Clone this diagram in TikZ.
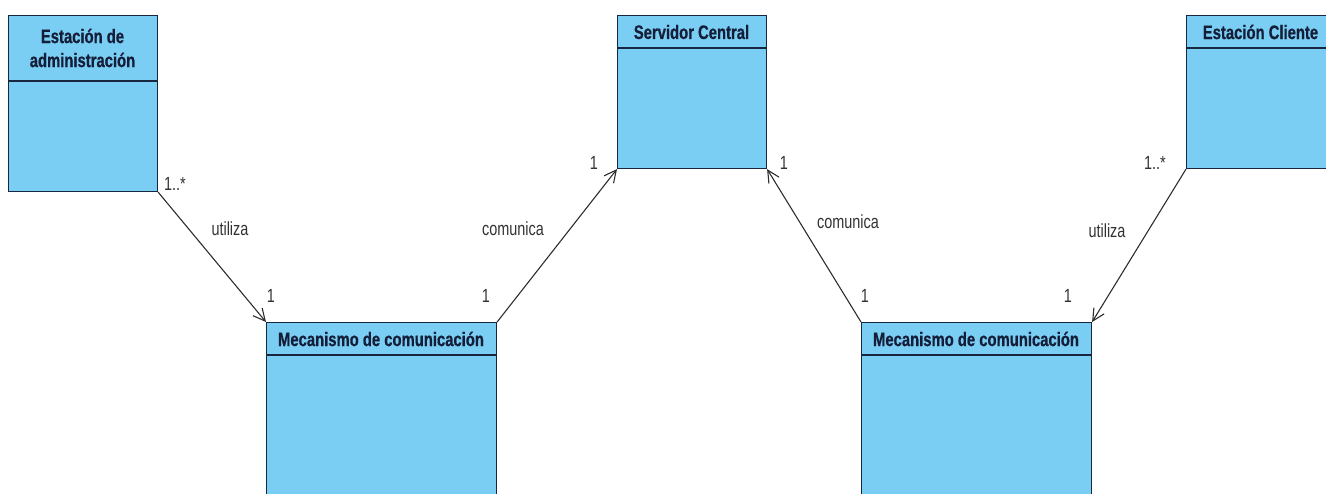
\documentclass[tikz,border=0pt]{standalone}
\usepackage{fontspec}
\setmainfont{Liberation Sans}
\newfontfamily\narrowfont[FakeStretch=0.76]{Liberation Sans}
\newfontfamily\narrowbold[FakeStretch=0.76,FakeBold=0.6]{Liberation Sans Bold}
\usetikzlibrary{arrows.meta}
\definecolor{classfill}{RGB}{122,206,244}
\definecolor{classline}{RGB}{24,38,64}
\definecolor{titletext}{RGB}{20,30,56}
\definecolor{assocline}{RGB}{45,45,45}
\definecolor{labeltext}{RGB}{50,50,50}
\begin{document}
\begin{tikzpicture}[x=1pt,y=-1pt,
  classbox/.style={draw=classline,fill=classfill,line width=1.1pt,anchor=north west,inner sep=0pt},
  classtitle/.style={font=\narrowbold\fontsize{19.5}{21}\selectfont,text=titletext,inner sep=0pt,anchor=center,align=center},
  divider/.style={draw=classline,line width=1.4pt},
  assoc/.style={draw=assocline,line width=1.1pt,-{Straight Barb[length=12pt,width=12pt,line width=1.1pt]}},
  role/.style={font=\narrowfont\fontsize{19}{21}\selectfont,text=labeltext,inner sep=0pt,anchor=center}]
\useasboundingbox (0,0) rectangle (1326,493);
\clip (0,0) rectangle (1326,493);

% classes
\node[classbox,minimum width=149pt,minimum height=176pt] (adm) at (8,15) {};
\node[classtitle] (admT) at (82.5,48) {Estación de\\[3pt]administración};
\draw[divider] (adm.west |- 0,81) -- (adm.east |- 0,81);

\node[classbox,minimum width=149pt,minimum height=153pt] (srv) at (617,15) {};
\node[classtitle] (srvT) at (691.5,32) {Servidor Central};
\draw[divider] (srv.west |- 0,48) -- (srv.east |- 0,48);

\node[classbox,minimum width=149pt,minimum height=153pt] (cli) at (1186,15) {};
\node[classtitle] (cliT) at (1260.5,32) {Estación Cliente};
\draw[divider] (cli.west |- 0,48) -- (cli.east |- 0,48);

\node[classbox,minimum width=230pt,minimum height=190pt] (mecA) at (266,322) {};
\node[classtitle] (mecAT) at (381,339) {Mecanismo de comunicación};
\draw[divider] (mecA.west |- 0,355) -- (mecA.east |- 0,355);

\node[classbox,minimum width=230pt,minimum height=190pt] (mecB) at (861,322) {};
\node[classtitle] (mecBT) at (976,339) {Mecanismo de comunicación};
\draw[divider] (mecB.west |- 0,355) -- (mecB.east |- 0,355);

% associations
\draw[assoc] (adm.south east) -- (mecA.north west);
\draw[assoc] (mecA.north east) -- (srv.south west);
\draw[assoc] (mecB.north west) -- (srv.south east);
\draw[assoc] (cli.south west) -- (mecB.north east);

% names and multiplicities
\node[role] (l1) at (175,184) {1..*};
\node[role] (l2) at (230,229) {utiliza};
\node[role] (l3) at (271,296) {1};

\node[role] (l4) at (486,296) {1};
\node[role] (l5) at (513,229) {comunica};
\node[role] (l6) at (594,163) {1};

\node[role] (l7) at (784,163) {1};
\node[role] (l8) at (848,222) {comunica};
\node[role] (l9) at (865,296) {1};

\node[role] (l10) at (1155,163) {1..*};
\node[role] (l11) at (1107,231) {utiliza};
\node[role] (l12) at (1068,296) {1};
\end{tikzpicture}
\end{document}
